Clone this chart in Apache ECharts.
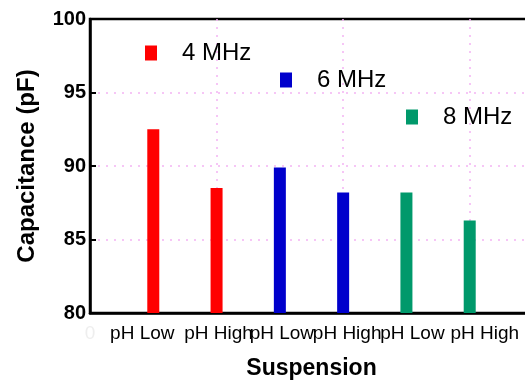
<!DOCTYPE html>
<html>
<head>
<meta charset="utf-8">
<script src="https://cdn.jsdelivr.net/npm/echarts@6/dist/echarts.min.js"></script>
<style>
  html, body { margin: 0; padding: 0; background: #fff; }
  #chart { width: 525px; height: 381px; }
</style>
</head>
<body>
<div id="chart"></div>
<script>
// x positions of the bars (0 is a faint leftover label in the original)
const xLabels = ['0', 'pH Low', 'pH High', 'pH Low', 'pH High', 'pH Low', 'pH High'];
const seriesNames = ['4 MHz', '6 MHz', '8 MHz'];
const seriesColors = ['#FF0000', '#0000CC', '#00996B'];
const positions4 = [1, 2];
const positions6 = [3, 4];
const positions8 = [5, 6];
const values4 = [92.5, 88.5];
const values6 = [89.9, 88.2];
const values8 = [88.2, 86.3];

// the tick labels in the original sit a little off their bars
const labelShift = [0, -11, 2, 2, 4, 6, 15];

const chart = echarts.init(document.getElementById('chart'));

const font = 'Arial, "Liberation Sans", sans-serif';
const gridLine = { color: '#F4B4F4', type: [2, 6], width: 1.5 };

function pairs(xs, ys) {
  return xs.map((x, i) => [x, ys[i]]);
}

function legendAt(name, left, top) {
  return {
    data: [name],
    left: left,
    top: top,
    icon: 'rect',
    itemWidth: 12,
    itemHeight: 15,
    textStyle: { fontFamily: font, fontSize: 24, color: '#000', padding: [0, 0, 0, 20] },
    selectedMode: false
  };
}

const labelRich = {};
labelShift.forEach((d, i) => {
  labelRich['l' + i] = {
    fontFamily: font, fontSize: 19,
    color: i === 0 ? '#EEEEEE' : '#000',
    padding: d < 0 ? [0, -2 * d, 0, 0] : [0, 0, 0, 2 * d]
  };
});

const option = {
  animation: false,
  grid: {
    left: 90, top: 19, width: 443, bottom: 68,
    outerBoundsMode: 'none',
    containLabel: false,
    show: true, borderColor: '#000', borderWidth: 2.5
  },
  legend: [
    legendAt(seriesNames[0], 140, 36),
    legendAt(seriesNames[1], 275, 63),
    legendAt(seriesNames[2], 401, 100)
  ],
  xAxis: [
    {
      type: 'value',
      min: 0, max: 7, interval: 1,
      name: 'Suspension',
      nameLocation: 'middle',
      nameGap: 44,
      nameTextStyle: { fontFamily: font, fontSize: 23, fontWeight: 'bold', color: '#000' },
      axisLine: { show: true, lineStyle: { color: '#000', width: 2.5 } },
      axisTick: { show: false },
      splitLine: { show: false },
      axisLabel: {
        margin: 11,
        showMinLabel: true, showMaxLabel: false,
        formatter: v => xLabels[v] ? '{l' + v + '|' + xLabels[v] + '}' : '',
        rich: labelRich
      }
    },
    {
      type: 'value',
      min: 0, max: 7, interval: 2,
      position: 'bottom',
      axisLine: { show: false },
      axisLabel: { show: false },
      axisTick: { show: true, inside: true, length: 6, lineStyle: { color: '#000', width: 2 } },
      splitLine: { show: true, showMinLine: false, showMaxLine: false, lineStyle: gridLine }
    }
  ],
  yAxis: {
    type: 'value',
    min: 80, max: 100, interval: 5,
    name: 'Capacitance (pF)',
    nameLocation: 'middle',
    nameGap: 51,
    nameTextStyle: { fontFamily: font, fontSize: 24, fontWeight: 'bold', color: '#000' },
    axisLine: { show: true, lineStyle: { color: '#000', width: 2.5 } },
    axisTick: { show: true, inside: true, length: 6, lineStyle: { color: '#000', width: 2 } },
    axisLabel: { fontFamily: font, fontSize: 20, fontWeight: 'bold', color: '#000', margin: 4 },
    splitLine: { show: true, showMinLine: false, showMaxLine: false, lineStyle: gridLine }
  },
  series: [
    { name: seriesNames[0], type: 'bar', data: pairs(positions4, values4) },
    { name: seriesNames[1], type: 'bar', data: pairs(positions6, values6) },
    { name: seriesNames[2], type: 'bar', data: pairs(positions8, values8) }
  ].map((s, i) => Object.assign(s, {
    barWidth: 12,
    barGap: '-100%',
    itemStyle: { color: seriesColors[i] }
  }))
};

chart.setOption(option);
</script>
</body>
</html>
